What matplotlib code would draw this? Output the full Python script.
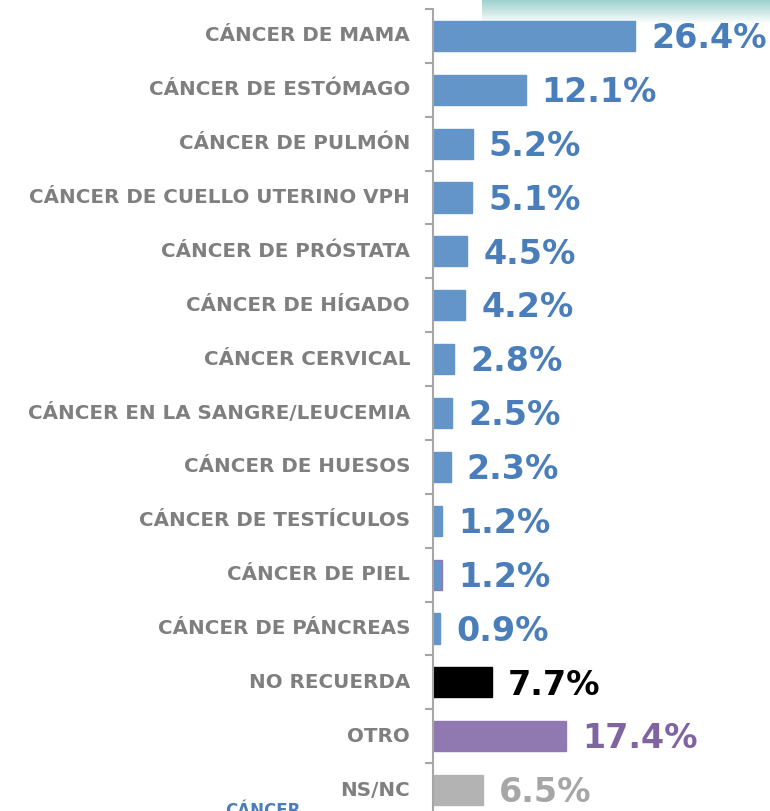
import matplotlib
matplotlib.use("Agg")
import matplotlib.pyplot as plt
import numpy as np
from matplotlib.colors import LinearSegmentedColormap

categories = ["CÁNCER DE MAMA", "CÁNCER DE ESTÓMAGO", "CÁNCER DE PULMÓN",
              "CÁNCER DE CUELLO UTERINO VPH", "CÁNCER DE PRÓSTATA", "CÁNCER DE HÍGADO",
              "CÁNCER CERVICAL", "CÁNCER EN LA SANGRE/LEUCEMIA", "CÁNCER DE HUESOS",
              "CÁNCER DE TESTÍCULOS", "CÁNCER DE PIEL", "CÁNCER DE PÁNCREAS",
              "NO RECUERDA", "OTRO", "NS/NC"]
values = [26.4, 12.1, 5.2, 5.1, 4.5, 4.2, 2.8, 2.5, 2.3, 1.2, 1.2, 0.9, 7.7, 17.4, 6.5]
labels = ["26.4%", "12.1%", "5.2%", "5.1%", "4.5%", "4.2%", "2.8%", "2.5%", "2.3%",
          "1.2%", "1.2%", "0.9%", "7.7%", "17.4%", "6.5%"]

BLUE_BAR = "#6495c8"
BLUE_TXT = "#4a7ebb"
bar_colors = [BLUE_BAR]*12 + ["#000000", "#9079b0", "#b3b3b3"]
edge_colors = [BLUE_BAR]*10 + ["#9079b0", BLUE_BAR, "#000000", "#9079b0", "#b3b3b3"]
txt_colors = [BLUE_TXT]*12 + ["#000000", "#8064a2", "#a6a6a6"]

W, H = 770, 811
fig = plt.figure(figsize=(W/100, H/100), dpi=100)

# background gradient band top right
bg = fig.add_axes([482/W, 1-24/H, (W-482)/W, 24/H], zorder=0)
grad = np.linspace(0, 1, 50).reshape(-1, 1)
cmap = LinearSegmentedColormap.from_list("g", ["#9dd2ce", "#ffffff"])
bg.imshow(grad, aspect="auto", cmap=cmap, extent=[0, 1, 0, 1])
bg.axis("off")

top_px, bot_px = 9, 817
ax = fig.add_axes([433/W, 1-bot_px/H, (30*7.65)/W, (bot_px-top_px)/H], zorder=1)
ax.patch.set_alpha(0)
n = len(categories)
y = np.arange(n)
ax.barh(y, values, height=0.56, color=bar_colors, edgecolor=edge_colors, linewidth=1)
ax.set_ylim(n-0.5, -0.5)
ax.set_xlim(0, 30)

for s in ["top", "right", "bottom"]:
    ax.spines[s].set_visible(False)
ax.spines["left"].set_color("#a6a6a6")
ax.spines["left"].set_linewidth(1.5)
ax.set_xticks([])
ax.set_yticks(np.arange(-0.5, n, 1))
ax.set_yticklabels([])
ax.tick_params(axis="y", direction="out", length=6, width=1.5, color="#a6a6a6")

for i, c in enumerate(categories):
    ax.text(-23/7.65, i, c, ha="right", va="center", fontsize=14.3, fontweight="bold",
            color="#7f7f7f", family="DejaVu Sans", clip_on=False)
for i, (v, l) in enumerate(zip(values, labels)):
    ax.text(v + 2.1, i + 0.05, l, ha="left", va="center", fontsize=24, fontweight="bold",
            color=txt_colors[i], family="DejaVu Sans", clip_on=False)

fig.text(225/W, 1-(H+9)/H, "CÁNCER", ha="left", va="bottom", fontsize=12, fontweight="bold",
         color=BLUE_TXT, family="DejaVu Sans")

fig.savefig("out.png", dpi=100)
